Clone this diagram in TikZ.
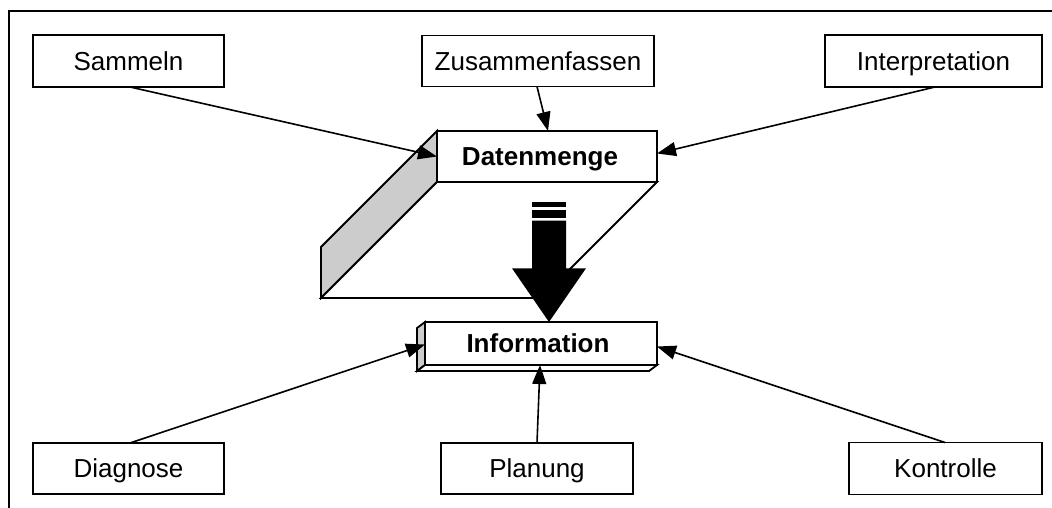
\documentclass[tikz,border=0pt]{standalone}
\usepackage{fontspec}
\setmainfont{Liberation Sans}
\usetikzlibrary{arrows.meta,calc}
\begin{document}
\begin{tikzpicture}[x=1pt,y=-1pt,
  box/.style={draw,line width=1.8pt,inner sep=0pt,outer sep=0pt,fill=white,
    text height=18.6pt,text depth=0pt,font=\fontsize{26}{30}\selectfont},
  boldbox/.style={box,font=\fontsize{26}{30}\selectfont\bfseries},
  face/.style={draw,line width=1.8pt,line join=miter},
  conn/.style={line width=1.6pt,-{Triangle[length=19pt,width=14pt]}},
  frame/.style={line width=1.8pt}]
\useasboundingbox (0,0) rectangle (1052,508);

% open frame: top and left edges
\coordinate (fl) at (9,508);
\coordinate (fc) at (9,11);
\coordinate (fr) at (1052,11);
\draw[frame] (fl) -- (fc) -- (fr);

% source boxes
\node[box,minimum width=191pt,minimum height=52pt] (sam) at (128.5,61) {Sammeln};
\node[box,minimum width=232pt,minimum height=51pt] (zus) at (538,61) {Zusammenfassen};
\node[box,minimum width=217pt,minimum height=52pt] (int) at (933.5,61) {Interpretation};
\node[box,minimum width=191pt,minimum height=51pt] (dia) at (128.5,468.5) {Diagnose};
\node[box,minimum width=192pt,minimum height=51pt] (pla) at (537,468.5) {Planung};
\node[box,minimum width=193pt,minimum height=52pt] (kon) at (945.5,468.5) {Kontrolle};

% extruded data block
\node[boldbox,minimum width=220pt,minimum height=51pt] (dm) at (547,156.5) {\hspace*{-14pt}Datenmenge};
\draw[face,fill=black!20] (dm.north west) -- (dm.south west) -- ++(-116,116) -- ++(0,-51) -- cycle;
\draw[face,fill=white] (dm.south west) -- (dm.south east) -- ++(-116,116) -- ++(-220,0) -- cycle;

% block arrow from data to information
\fill (532,202) rectangle (566,207.3);
\fill (532,210) rectangle (566,218.3);
\fill (532,220.7) -- (566,220.7) -- (566,268.3) -- (586,268.3) -- (549,322)
  -- (512,268.3) -- (532,268.3) -- cycle;

% extruded information block
\node[boldbox,minimum width=232pt,minimum height=43pt] (info) at (541,343.5) {\hspace*{-6pt}Information};
\draw[face,fill=black!20] (info.north west) -- (info.south west) -- ++(-8,6) -- ++(0,-43) -- cycle;
\draw[face,fill=white] (info.south west) -- (info.south east) -- ++(-8,6) -- ++(-232,0) -- cycle;

% connectors
\draw[conn] ([xshift=1.5pt]sam.south) -- (dm.west);
\draw[conn] ([xshift=-1pt]zus.south) -- ([xshift=1pt]dm.north);
\draw[conn] ([xshift=1.5pt]int.south) -- ([yshift=3pt]dm.east);
\draw[conn] ([xshift=1.5pt]dia.north) -- ([yshift=-1pt]info.west);
\draw[conn] (pla.north) -- ([xshift=-1pt]info.south);
\draw[conn] ([xshift=-0.5pt]kon.north) -- ([yshift=-3pt]info.east);
\end{tikzpicture}
\end{document}
